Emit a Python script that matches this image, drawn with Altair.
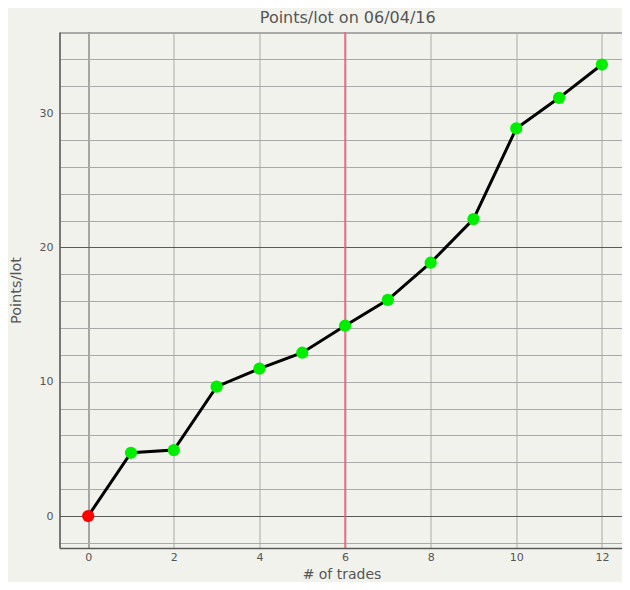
import altair as alt
import pandas as pd

# ---- data ----
trades = [0, 1, 2, 3, 4, 5, 6, 7, 8, 9, 10, 11, 12]
points = [0.0, 4.71, 4.91, 9.63, 10.97, 12.16, 14.17, 16.10, 18.86, 22.11, 28.86, 31.14, 33.62]
kind = ["start"] + ["trade"] * 12
x_ticks = [0, 2, 4, 6, 8, 10, 12]
y_grid = list(range(-2, 37, 2))
marker_trade = [6]

df = pd.DataFrame({"trade": trades, "points": points, "kind": kind})
marker_df = pd.DataFrame({"trade": marker_trade})

FONT = "DejaVu Sans"
GRID = "#a9a9a9"
DARK = "#5a5a5a"

x_scale = alt.Scale(domain=[-0.67, 12.47], nice=False, zero=False)
y_scale = alt.Scale(domain=[-2.38, 36.04], nice=False, zero=False)

x_axis = alt.Axis(
    values=x_ticks,
    title="# of trades",
    grid=True,
    gridColor={"condition": {"test": "datum.value === 0", "value": DARK}, "value": GRID},
    gridWidth=1,
    ticks=False,
    labelPadding=3,
    labelFont=FONT,
    labelFontSize=11,
    labelColor="#555555",
    domainColor=DARK,
    domainWidth=1.5,
    titleFont=FONT,
    titleFontSize=14,
    titleFontWeight="normal",
    titleColor="#555555",
    titleBaseline="alphabetic",
    titleX=282,
    titleY=30,
)

y_axis = alt.Axis(
    values=y_grid,
    labelExpr="datum.value % 10 === 0 ? datum.label : ''",
    title="Points/lot",
    grid=True,
    gridColor={"condition": {"test": "datum.value === 0 || datum.value === 20", "value": DARK},
               "value": GRID},
    gridWidth=1,
    ticks=False,
    labelPadding=6.5,
    labelFont=FONT,
    labelFontSize=11,
    labelColor="#555555",
    domainColor=DARK,
    domainWidth=1.5,
    titleFont=FONT,
    titleFontSize=14.5,
    titleFontWeight="normal",
    titleColor="#555555",
    titleAngle=-90,
    titleBaseline="middle",
    titleX=-43,
    titleY=258,
)

base = alt.Chart(df).encode(
    x=alt.X("trade:Q", scale=x_scale, axis=x_axis),
    y=alt.Y("points:Q", scale=y_scale, axis=y_axis),
)

rule = alt.Chart(marker_df).mark_rule(color="#f45b75", strokeWidth=1.5).encode(
    x=alt.X("trade:Q", scale=x_scale)
)

line = base.mark_line(color="black", strokeWidth=3)

dots = base.mark_point(filled=True, size=150, opacity=1, shape="circle").encode(
    color=alt.Color("kind:N",
                    scale=alt.Scale(domain=["start", "trade"], range=["#ff0000", "#00ee00"]),
                    legend=None)
)

chart = alt.layer(rule, line, dots).properties(
    width=562.5,
    height=516,
    title=alt.TitleParams(
        "Points/lot on 06/04/16",
        font=FONT,
        fontSize=16,
        fontWeight="normal",
        color="#555555",
        baseline="alphabetic",
        offset=9,
        dy=17,
        dx=7,
    ),
    autosize=alt.AutoSizeParams(type="none"),
    padding={"left": 51.5, "top": 24, "right": 0, "bottom": 34},
    background="#f2f2ec",
).configure_view(stroke=GRID, strokeWidth=1)

chart.save("out.html", embed_options={"renderer": "svg", "actions": False})
